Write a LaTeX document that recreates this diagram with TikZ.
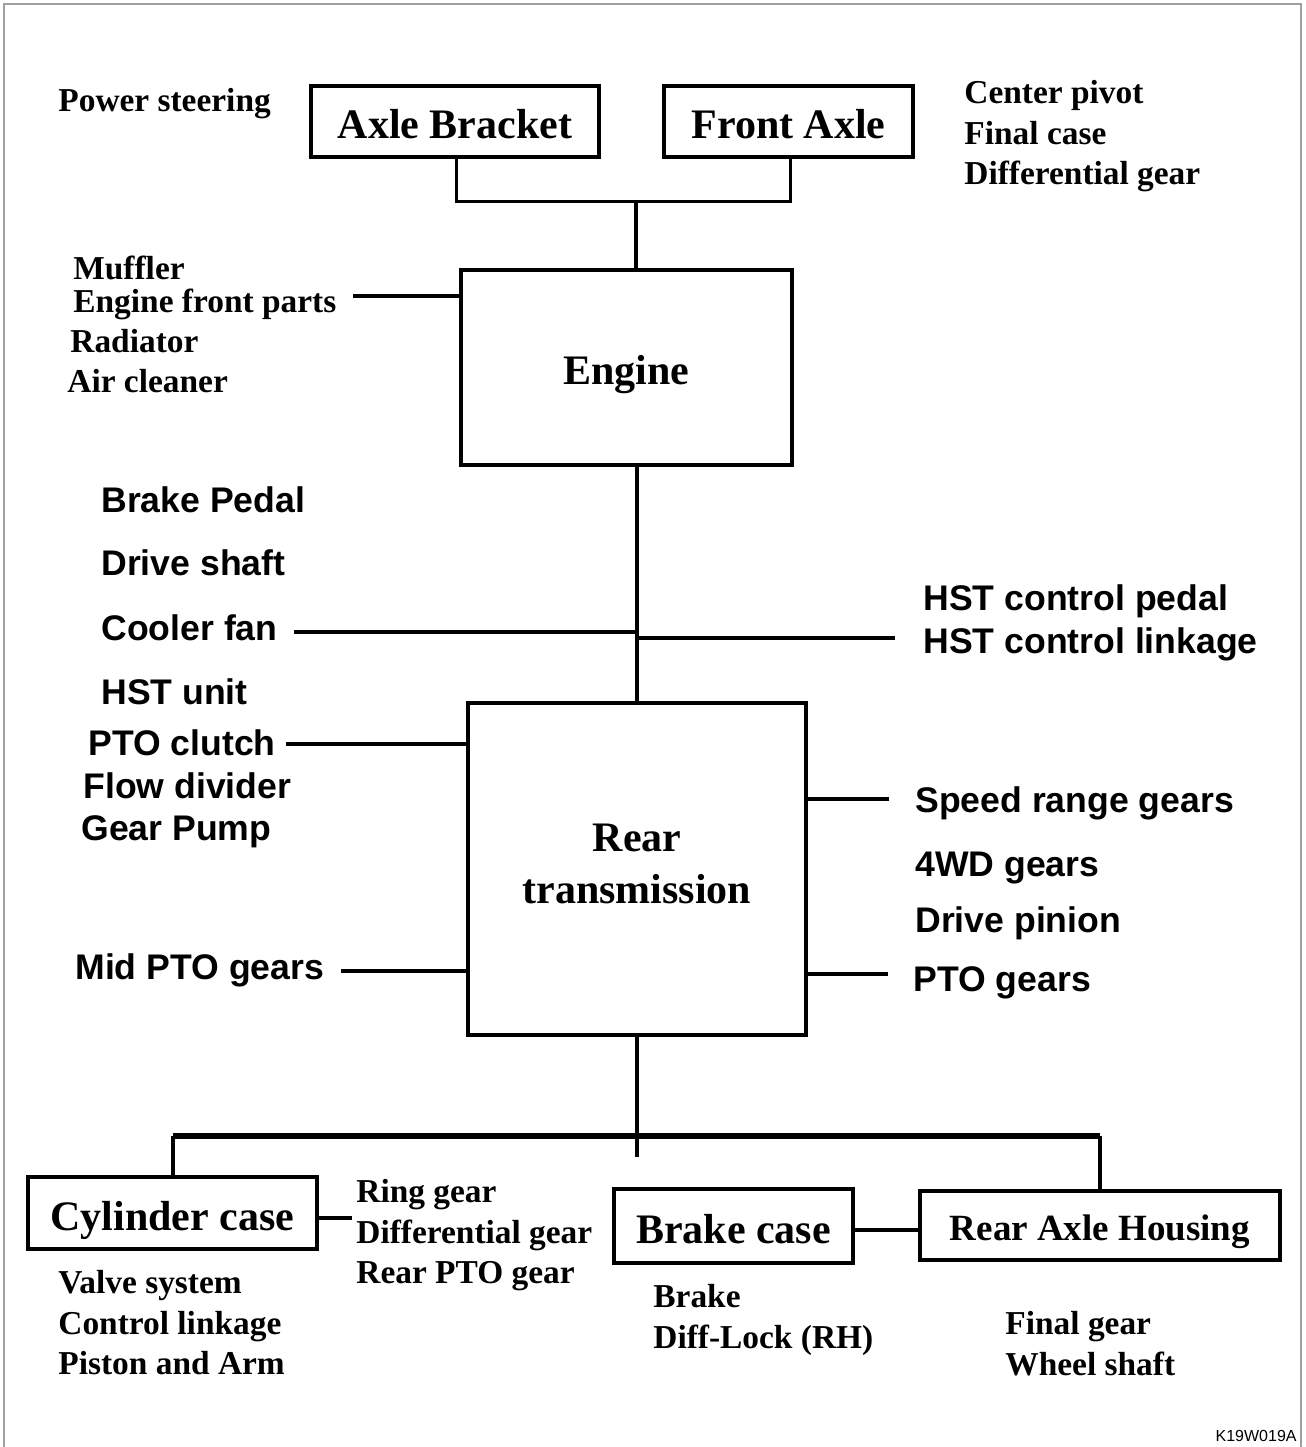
\documentclass[tikz,border=0pt]{standalone}
\usepackage{fontspec}
\setmainfont{Liberation Serif}
\newfontfamily\sansfam{Liberation Sans}
\definecolor{framegray}{HTML}{A0A0A0}
\begin{document}
\begin{tikzpicture}[x=0.5pt,y=-0.5pt,
  box/.style={draw,line width=1.7pt,inner sep=0pt,align=center,
    text height=17pt,text depth=0pt,
    font=\bfseries\fontsize{21}{26}\selectfont},
  lab/.style={anchor=base west,inner sep=0pt,font=\bfseries\fontsize{16.7}{20}\selectfont},
  slab/.style={anchor=base west,inner sep=0pt,font=\sansfam\bfseries\fontsize{17.8}{21}\selectfont},
  link/.style={line width=1.5pt},
  branch/.style={line width=2.4pt},
  trunk/.style={line width=2pt},
  bar/.style={line width=3.4pt}]
\path[use as bounding box] (0,0) rectangle (1306,1447);
\draw[framegray,line width=1pt] (4,1447) -- (4,4) -- (1301,4) -- (1301,1447);

% boxes
\node[box,minimum width=144pt,minimum height=35.5pt] (ab) at (455,121.5) {Axle Bracket};
\node[box,minimum width=124.5pt,minimum height=35.5pt] (fa) at (788.5,121.5) {Front Axle};
\node[box,minimum width=165.5pt,minimum height=97.5pt] (eng) at (626.5,367.5) {Engine};
\node[box,minimum width=169pt,minimum height=166pt,text height=,text depth=5pt] (rt) at (637,869) {Rear\\transmission};
\node[box,minimum width=144.5pt,minimum height=36pt] (cyl) at (172.5,1213) {Cylinder case};
\node[box,minimum width=119.5pt,minimum height=37pt] (bc) at (733.5,1226) {Brake case};
\node[box,minimum width=180pt,minimum height=34.5pt,text height=15pt,font=\bfseries\fontsize{18.5}{22}\selectfont] (rah) at (1100,1225.5) {Rear Axle Housing};

% serif labels
\node[lab] (ps) at (58,111) {Power steering};
\node[lab] (cp) at (964,103) {Center pivot};
\node[lab] (fc) at (964,144) {Final case};
\node[lab] (dg1) at (964,184) {Differential gear};
\node[lab] (muf) at (73,279) {Muffler};
\node[lab] (efp) at (73,312) {Engine front parts};
\node[lab] (rad) at (70,352) {Radiator};
\node[lab] (air) at (67,392) {Air cleaner};
\node[lab] (rg) at (356,1202) {Ring gear};
\node[lab] (dg2) at (356,1243) {Differential gear};
\node[lab] (rpto) at (356,1283) {Rear PTO gear};
\node[lab] (vs) at (58,1293) {Valve system};
\node[lab] (cl) at (58,1334) {Control linkage};
\node[lab] (pa) at (58,1374) {Piston and Arm};
\node[lab] (br) at (653,1307) {Brake};
\node[lab] (dl) at (653,1348) {Diff-Lock (RH)};
\node[lab] (fg) at (1005,1334) {Final gear};
\node[lab] (ws) at (1005,1375) {Wheel shaft};

% sans labels
\node[slab] (bp) at (101,512) {Brake Pedal};
\node[slab] (ds) at (101,575) {Drive shaft};
\node[slab] (cf) at (101,640) {Cooler fan};
\node[slab] (hu) at (101,704) {HST unit};
\node[slab] (pc) at (88,755) {PTO clutch};
\node[slab] (fd) at (83,798) {Flow divider};
\node[slab] (gp) at (81,840) {Gear Pump};
\node[slab] (mpto) at (75,979) {Mid PTO gears};
\node[slab] (hcp) at (923,610) {HST control pedal};
\node[slab] (hcl) at (923,653) {HST control linkage};
\node[slab] (srg) at (915,812) {Speed range gears};
\node[slab] (wdg) at (915,876) {4WD gears};
\node[slab] (dp) at (915,932) {Drive pinion};
\node[slab] (ptog) at (913,991) {PTO gears};

\node[anchor=base east,inner sep=0pt,font=\sansfam\fontsize{8}{9}\selectfont] (code) at (1297,1441) {K19W019A};

% connector points
\coordinate (top) at (636,201);
\coordinate (efpE) at (353,296);
\coordinate (cfE) at (294,632);
\coordinate (hstE) at (895,638);
\coordinate (pcE) at (286,744);
\coordinate (mptoE) at (341,971);
\coordinate (srgE) at (889,799);
\coordinate (ptogE) at (888,974);
\coordinate (barY) at (637,1136);
\coordinate (tail) at (637,1157);
\coordinate (cylE) at (352,1218);
\coordinate (bcY) at (853,1230);

% connectors
\draw[link] (ab.south -| 456,0) |- (top) -| (fa.south -| 790,0);
\draw[trunk] (top) -- (top |- eng.north);
\draw[branch] (efpE) -- (efpE -| eng.west);
\draw[trunk] (rt.north |- eng.south) -- (rt.north);
\draw[branch] (cfE) -- (cfE -| rt.north);
\draw[branch] (hstE) -- (hstE -| rt.north);
\draw[branch] (pcE) -- (pcE -| rt.west);
\draw[branch] (mptoE) -- (mptoE -| rt.west);
\draw[branch] (srgE) -- (srgE -| rt.east);
\draw[branch] (ptogE) -- (ptogE -| rt.east);
\draw[trunk] (rt.south) -- (tail);
\draw[bar] (barY -| cyl.north) -- (barY -| rah.north);
\draw[trunk] (barY -| cyl.north) -- (cyl.north);
\draw[trunk] (barY -| rah.north) -- (rah.north);
\draw[branch] (cylE -| cyl.east) -- (cylE);
\draw[branch] (bcY -| bc.east) -- (bcY -| rah.west);
\end{tikzpicture}
\end{document}
